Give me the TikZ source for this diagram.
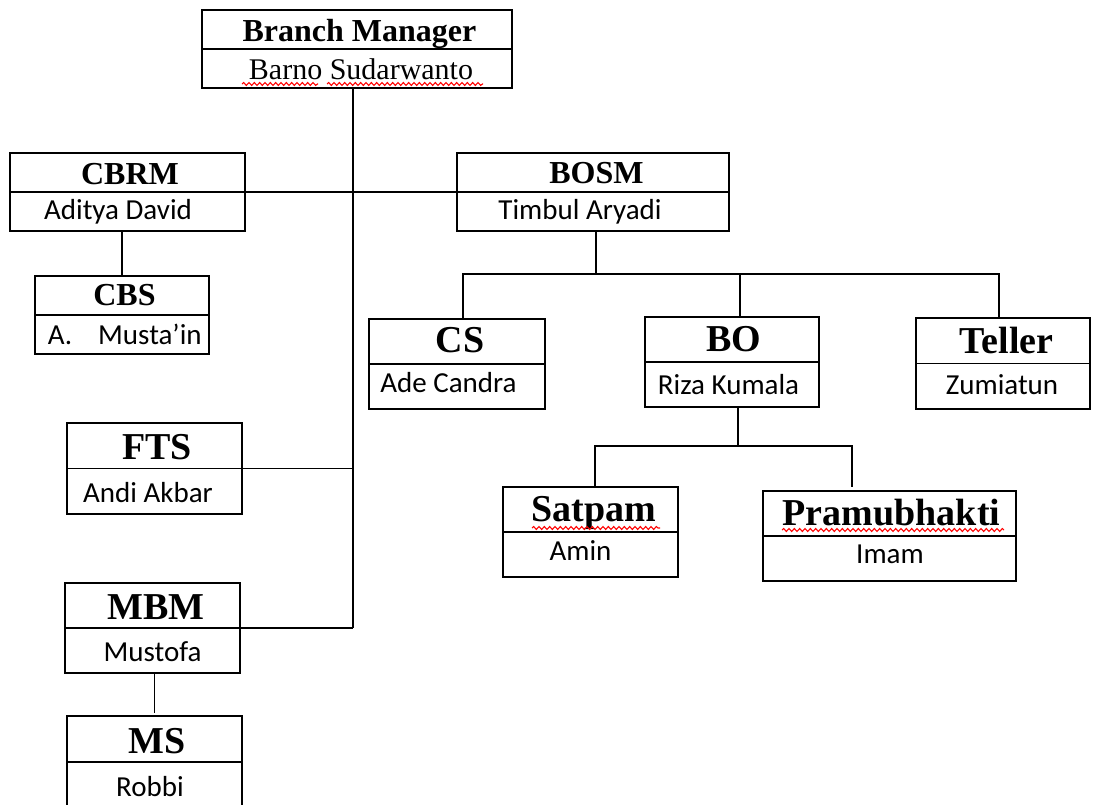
\documentclass[tikz,border=0pt]{standalone}
\usepackage{fontspec}
\setmainfont{Liberation Serif}
\newfontfamily\namefont{Carlito}
\usetikzlibrary{decorations.pathmorphing}

\tikzset{
  box/.style 2 args={draw, inner sep=0pt, outer sep=0pt, minimum width=#1*0.75pt, minimum height=#2*0.75pt},
  ttl/.style={inner sep=0pt, anchor=base, font=\bfseries\fontsize{24}{24}\selectfont},
  bigttl/.style={inner sep=0pt, anchor=base, font=\bfseries\fontsize{28.5}{28.5}\selectfont},
  who/.style={inner sep=0pt, anchor=base, font=\namefont\fontsize{21.75}{22}\selectfont},
  squig/.style={red, line width=0.8pt, decorate, decoration={snake, amplitude=1.1pt, segment length=4pt}}
}

\begin{document}
\begin{tikzpicture}[x=0.75pt, y=-0.75pt, line width=1.4pt]

\clip (0,0) rectangle (1093,805);

% boxes
\node[box={310}{78}] (bm) at (357,49) {};
\node[box={235}{78}] (cbrm) at (127.5,192) {};
\node[box={272}{78}] (bosm) at (593,192) {};
\node[box={174}{78}] (cbs) at (122,315) {};
\node[box={176}{90}] (cs) at (457,364) {};
\node[box={174}{90}] (bo) at (732,362) {};
\node[box={174}{91}] (teller) at (1003,363.5) {};
\node[box={175}{91}] (fts) at (154.5,468.5) {};
\node[box={175}{90}] (mbm) at (152.5,628) {};
\node[box={175}{92}] (ms) at (154.5,762) {};
\node[box={175}{90}] (satpam) at (590.5,532) {};
\node[box={253}{90}] (pram) at (889.5,536) {};

\foreach \b in {bm, cbrm, bosm, cbs, cs, bo, teller, fts, mbm, ms, satpam, pram}
  \draw (\b.west) -- (\b.east);

% titles and names
\node[ttl] (bm-t) at (359.5,42) {Branch Manager};
\node[inner sep=0pt, anchor=base, font=\fontsize{22.5}{23}\selectfont] (bm-n) at (361,80) {Barno Sudarwanto};
\node[ttl] (cbrm-t) at (130,185) {CBRM};
\node[who] (cbrm-n) at (118,220) {Aditya David};
\node[ttl] (bosm-t) at (596.5,184) {BOSM};
\node[who] (bosm-n) at (580,220) {Timbul Aryadi};
\node[ttl] (cbs-t) at (124.5,306) {CBS};
\node[who, anchor=base west] (cbs-n) at (47,345) {A.\hspace{19.5pt}Musta’in};
\node[bigttl] (cs-t) at (460,353) {CS};
\node[who] (cs-n) at (448.5,393) {Ade Candra};
\node[bigttl] (bo-t) at (734,352) {BO};
\node[who] (bo-n) at (728.5,395) {Riza Kumala};
\node[bigttl] (teller-t) at (1006.5,354) {Teller};
\node[who] (teller-n) at (1002,395) {Zumiatun};
\node[bigttl] (fts-t) at (157,460) {FTS};
\node[who] (fts-n) at (148,503) {Andi Akbar};
\node[bigttl] (mbm-t) at (156,619) {MBM};
\node[who] (mbm-n) at (152.5,661) {Mustofa};
\node[bigttl] (ms-t) at (157,753) {MS};
\node[who] (ms-n) at (150,796) {Robbi};
\node[bigttl] (satpam-t) at (594,522) {Satpam};
\node[who] (satpam-n) at (580.5,561) {Amin};
\node[bigttl] (pram-t) at (891.5,526) {Pramubhakti};
\node[who] (pram-n) at (890,563) {Imam};

% spelling marks
\draw[squig] (242,84) -- (318,84);
\draw[squig] (327,84) -- (483,84);
\draw[squig] (532,528) -- (660,528);
\draw[squig] (782,530) -- (1004,530);

% trunk
\coordinate (tr) at (353,628);
\draw (bm.south -| tr) -- (tr);
\draw (cbrm.east) -- (cbrm.east -| tr);
\draw (bosm.west) -- (bosm.west -| tr);
\draw (fts.east) -- (fts.east -| tr);
\draw (mbm.east) -- (tr);
\draw (cbs.north) -- (cbs.north |- cbrm.south);
\draw[shorten >=2pt] (mbm.south -| ms.north) -- (ms.north);

% BOSM staff
\coordinate (j1) at (596,274);
\coordinate (j1w) at (463,274);
\coordinate (j1m) at (740,274);
\coordinate (j1e) at (999,274);
\draw (bosm.south -| j1) -- (j1);
\draw (cs.north -| j1w) -- (j1w) -- (j1e) -- (teller.north -| j1e);
\draw (j1m) -- (bo.north -| j1m);

% BO staff
\coordinate (j2) at (738,446);
\coordinate (j2w) at (595,446);
\coordinate (j2e) at (852,446);
\draw (bo.south -| j2) -- (j2);
\draw[shorten >=3pt] (satpam.north -| j2w) -- (j2w) -- (j2e) -- (pram.north -| j2e);

\end{tikzpicture}
\end{document}
